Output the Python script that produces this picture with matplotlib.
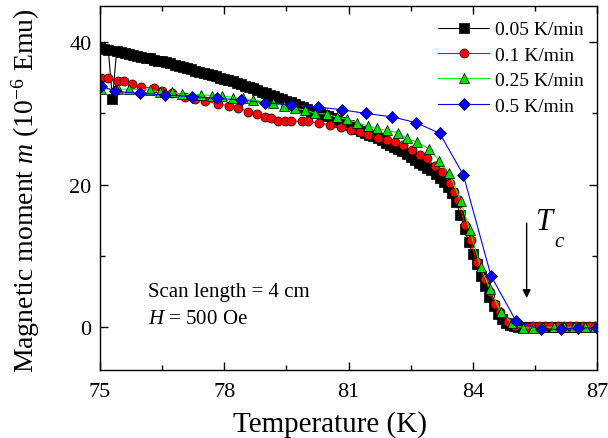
import matplotlib
matplotlib.use("Agg")
import matplotlib.pyplot as plt
from matplotlib.ticker import MultipleLocator

plt.rcParams["font.family"] = "Liberation Serif"
plt.rcParams["mathtext.fontset"] = "custom"
plt.rcParams["mathtext.rm"] = "Liberation Serif"
plt.rcParams["mathtext.it"] = "Liberation Serif:italic"

# 0.05 K/min (dense scan)
t_005 = [75.0, 75.1, 75.2, 75.3, 75.4, 75.5, 75.6, 75.7, 75.8, 75.9,
         76.0, 76.1, 76.2, 76.3, 76.4, 76.5, 76.6, 76.7, 76.8, 76.9,
         77.0, 77.1, 77.2, 77.3, 77.4, 77.5, 77.6, 77.7, 77.8, 77.9,
         78.0, 78.1, 78.2, 78.3, 78.4, 78.5, 78.6, 78.7, 78.8, 78.9,
         79.0, 79.1, 79.2, 79.3, 79.4, 79.5, 79.6, 79.7, 79.8, 79.9,
         80.0, 80.1, 80.2, 80.3, 80.4, 80.5, 80.6, 80.7, 80.8, 80.9,
         81.0, 81.1, 81.2, 81.3, 81.4, 81.5, 81.6, 81.7, 81.8, 81.9,
         82.0, 82.1, 82.2, 82.3, 82.4, 82.5, 82.6, 82.7, 82.8, 82.9,
         83.0, 83.1, 83.2, 83.3, 83.4, 83.5, 83.6, 83.7, 83.8, 83.9,
         84.0, 84.1, 84.2, 84.3, 84.4, 84.5, 84.6, 84.7, 84.8, 84.9,
         85.0, 85.1, 85.2, 85.3, 85.4, 85.5, 85.6, 85.7, 85.8, 85.9,
         86.0, 86.1, 86.2, 86.3, 86.4, 86.5, 86.6, 86.7, 86.8, 86.9, 87.0]
m_005 = [39.2, 39.0, 38.9, 32.0, 38.7, 38.6, 38.5, 38.4, 38.2, 38.1,
         37.95, 37.8, 37.7, 37.55, 37.4, 37.3, 37.15, 37.0, 36.85, 36.7,
         36.5, 36.35, 36.2, 36.0, 35.85, 35.7, 35.5, 35.35, 35.2, 35.0,
         34.85, 34.7, 34.5, 34.3, 34.1, 33.9, 33.7, 33.5, 33.25, 33.05,
         32.8, 32.6, 32.4, 32.2, 32.0, 31.8, 31.6, 31.35, 31.1, 30.85,
         30.6, 30.4, 30.2, 30.0, 29.8, 29.6, 29.35, 29.1, 28.85, 28.6,
         28.35, 28.1, 27.8, 27.5, 27.3, 27.0, 26.8, 26.5, 26.2, 25.9,
         25.6, 25.3, 25.0, 24.7, 24.3, 23.9, 23.5, 23.1, 22.8, 22.4,
         22.0, 21.5, 21.0, 20.4, 19.7, 18.8, 17.5, 15.8, 13.8, 12.0,
         10.2, 8.8, 7.2, 5.8, 4.3, 3.0, 1.9, 1.1, 0.6, 0.3,
         0.1, 0.0, 0.0, 0.0, 0.0, 0.0, 0.0, 0.0, 0.0, 0.0,
         0.0, 0.0, 0.0, 0.0, 0.0, 0.0, 0.0, 0.0, 0.0, 0.0, 0.0]

# 0.1 K/min
t_01 = [75.02, 75.2, 75.44, 75.59, 75.77, 76.0, 76.3, 76.5, 76.73, 77.05,
        77.29, 77.54, 77.86, 78.11, 78.34, 78.58, 78.78, 78.98, 79.14, 79.3,
        79.46, 79.62, 79.87, 80.03, 80.29, 80.55, 80.82, 81.05, 81.28, 81.48,
        81.72, 81.92, 82.12, 82.32, 82.53, 82.73, 82.89, 83.09, 83.25, 83.45,
        83.55, 83.65, 83.81, 83.95, 84.09, 84.29, 84.42, 84.54, 84.66, 84.86,
        85.02, 85.3, 85.45, 85.6, 85.75, 85.9, 86.05, 86.2, 86.35, 86.5,
        86.65, 86.8, 86.95]
m_01 = [35.0, 34.9, 34.55, 34.5, 34.1, 33.75, 33.5, 33.1, 32.8, 32.35,
        32.0, 31.75, 31.3, 31.1, 30.8, 30.2, 29.9, 29.5, 29.3, 28.9,
        28.9, 28.9, 28.9, 28.9, 28.6, 28.4, 28.05, 27.7, 27.4, 27.0,
        26.55, 26.2, 26.0, 25.5, 24.8, 24.2, 23.7, 22.6, 21.8, 20.3,
        19.0, 17.8, 14.3, 12.3, 9.1, 6.7, 4.9, 3.2, 2.1, 0.7,
        0.1, 0.0, 0.2, 0.2, 0.1, 0.2, 0.2, 0.1, 0.2, 0.2,
        0.1, 0.2, 0.2]

# 0.25 K/min
t_025 = [75.02, 75.44, 75.7, 76.2, 76.45, 76.73, 76.97, 77.44, 77.7, 77.94,
         78.22, 78.46, 78.7, 79.18, 79.45, 79.7, 79.95, 80.19, 80.47, 80.71,
         80.96, 81.21, 81.46, 81.68, 81.92, 82.2, 82.4, 82.65, 82.95, 83.19,
         83.43, 83.71, 83.93, 84.19, 84.42, 84.67, 84.94, 85.2, 85.46, 85.7,
         85.95, 86.2, 86.45, 86.7, 86.95]
m_025 = [33.4, 33.4, 33.4, 33.3, 32.96, 32.96, 32.7, 32.6, 32.5, 32.5,
         32.2, 32.1, 31.9, 31.4, 31.1, 30.7, 30.5, 30.0, 29.9, 29.5,
         29.15, 28.7, 28.2, 27.9, 27.6, 27.3, 26.5, 26.0, 25.0, 23.3,
         21.6, 17.65, 13.6, 8.4, 5.35, 2.15, 0.6, -0.1, -0.1, 0.0,
         0.0, 0.0, 0.0, 0.0, 0.0]

# 0.5 K/min
t_05 = [75.02, 75.36, 75.97, 76.57, 77.21, 77.82, 78.4, 78.98, 79.61, 80.26,
        80.84, 81.41, 82.06, 82.63, 83.2, 83.77, 84.44, 85.05, 85.64, 86.14,
        86.55, 86.99]
m_05 = [33.9, 33.1, 32.8, 32.6, 32.35, 32.1, 31.9, 31.5, 31.2, 30.9,
        30.5, 30.0, 29.5, 28.7, 27.2, 21.4, 7.2, 0.8, -0.3, -0.3,
        -0.1, -0.1]

fig = plt.figure(figsize=(6.08, 4.39), dpi=100)
ax = fig.add_axes([0.1645, 0.155, 0.8175, 0.828])

ax.plot(t_005, m_005, color="black", lw=0.8, marker="s", ms=6.5,
        mfc="black", mec="black", mew=0.5, label="0.05 K/min")
ax.plot(t_01, m_01, color="red", lw=0.8, marker="o", ms=6.5,
        mfc="red", mec="black", mew=0.5, label="0.1 K/min")
ax.plot(t_025, m_025, color="lime", lw=0.8, marker="^", ms=7,
        mfc="#00dd00", mec="black", mew=0.5, label="0.25 K/min")
ax.plot(t_05, m_05, color="blue", lw=0.8, marker="D", ms=6.5,
        mfc="blue", mec="black", mew=0.5, label="0.5 K/min")

ax.set_xlim(75, 87)
ax.set_ylim(-6, 45)
ax.xaxis.set_major_locator(MultipleLocator(3))
ax.xaxis.set_minor_locator(MultipleLocator(1.5))
ax.yaxis.set_major_locator(MultipleLocator(20))
ax.yaxis.set_minor_locator(MultipleLocator(10))
ax.tick_params(which="both", direction="in", top=True, right=True,
               labelsize=16, width=1.0)
ax.tick_params(which="major", length=6)
ax.tick_params(axis="x", which="major", pad=9)
ax.tick_params(axis="y", which="major", pad=6)
ax.tick_params(which="minor", length=3.5)
for s in ax.spines.values():
    s.set_linewidth(1.0)

ax.set_xlabel("Temperature (K)", fontsize=21)
ax.xaxis.set_label_coords(0.463, -0.11)
ax.set_ylabel("Magnetic moment $m$ (10$^{-6}$ Emu)", fontsize=20)
ax.yaxis.set_label_coords(-0.117, 0.496)

ax.legend(loc="upper right", frameon=False, fontsize=14,
          handlelength=2.6, handletextpad=0.3, labelspacing=0.4,
          borderaxespad=0.3, bbox_to_anchor=(1.0, 0.998))

ax.text(76.15, 5.0, "Scan length = 4 cm", fontsize=15, va="center")
ax.text(76.15, 1.2, "$H$ = 500 Oe", fontsize=15, va="center")

ax.annotate("", xy=(85.3, 3.7), xytext=(85.3, 15.0),
            arrowprops=dict(arrowstyle="-|>", color="black", lw=1.0,
                            mutation_scale=12))
ax.text(85.5, 14.8, "$T$", fontsize=22, va="center")
ax.text(85.97, 12.0, "$c$", fontsize=15, va="center")

fig.savefig("out.png", dpi=100)
